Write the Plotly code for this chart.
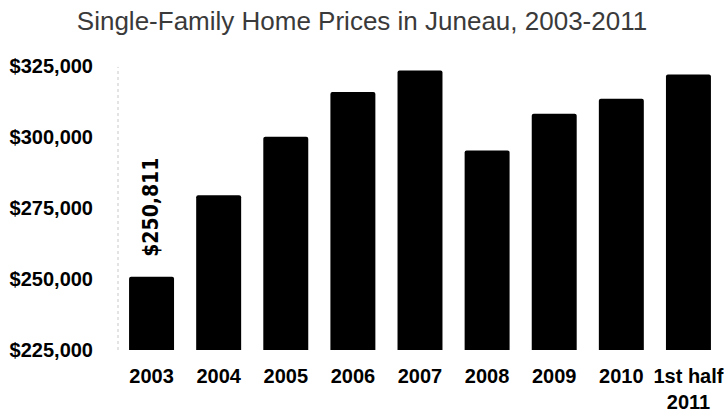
import plotly.graph_objects as go

# Median single-family home prices, Juneau
years = ["2003", "2004", "2005", "2006", "2007", "2008", "2009", "2010", "1st half<br>2011"]
prices = [250811, 279500, 300100, 315900, 323500, 295300, 308200, 313500, 322100]

tick_values = [225000, 250000, 275000, 300000, 325000]
tick_labels = ["$225,000", "$250,000", "$275,000", "$300,000", "$325,000"]

highlight_index = 0  # the year whose value is written above its bar

fig = go.Figure(
    go.Bar(
        x=years,
        y=prices,
        marker=dict(color="#000000", line=dict(width=0), cornerradius=2),
        hoverinfo="x+y",
    )
)

# value label above the highlighted bar (category position given by index)
fig.add_annotation(
    x=highlight_index,
    y=prices[highlight_index],
    text=f"<b>${prices[highlight_index]:,}</b>",
    textangle=-90,
    yanchor="bottom",
    yshift=18,
    showarrow=False,
    font=dict(family="DejaVu Sans Condensed", size=21, color="#000000", weight=900),
)

# faint dotted axis line on the left edge of the plot
fig.add_shape(
    type="line", xref="paper", yref="paper", x0=0, x1=0, y0=0, y1=0.95,
    line=dict(color="#c8c8c8", width=1, dash="dot"),
)

fig.update_layout(
    width=724,
    height=413,
    margin=dict(l=118, r=0, t=52, b=62),
    paper_bgcolor="white",
    plot_bgcolor="white",
    bargap=0.33,
    showlegend=False,
    title=dict(
        text="Single-Family Home Prices in Juneau, 2003-2011",
        x=0.5,
        xanchor="center",
        y=0.95,
        yanchor="middle",
        font=dict(family="Liberation Sans", size=26, color="#3a3a3a"),
    ),
    xaxis=dict(
        type="category",
        range=[-0.5, 8.5],
        showgrid=False,
        showline=False,
        zeroline=False,
        ticks="",
        ticklabelstandoff=12,
        tickfont=dict(family="Liberation Sans", size=20, color="#000000", weight="bold"),
    ),
    yaxis=dict(
        range=[225000, 330000],
        tickvals=tick_values,
        ticktext=tick_labels,
        showgrid=False,
        showline=False,
        zeroline=False,
        ticks="",
        ticklabelstandoff=24,
        tickfont=dict(family="Liberation Sans", size=20, color="#000000", weight="bold"),
    ),
)

fig.write_html("out.html")
